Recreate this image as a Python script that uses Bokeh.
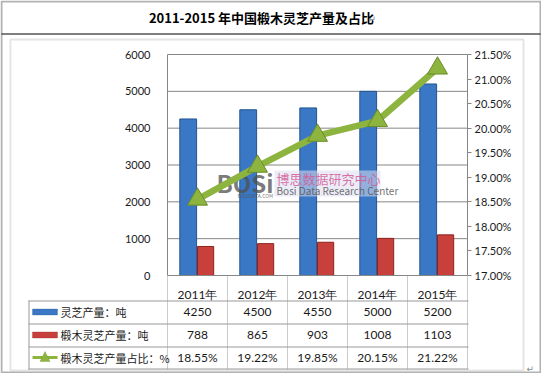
from bokeh.plotting import figure
from bokeh.models import (Range1d, LinearAxis, ColumnDataSource, Label, LabelSet,
                          BoxAnnotation, PolyAnnotation, FixedTicker, PrintfTickFormatter,
                          CustomJSTickFormatter)
from bokeh.core.properties import value
from bokeh.embed import file_html
from bokeh.resources import INLINE

# ---------------- data ----------------
years = ["2011年", "2012年", "2013年", "2014年", "2015年"]
lingzhi = [4250, 4500, 4550, 5000, 5200]          # 灵芝产量：吨
duanmu = [788, 865, 903, 1008, 1103]              # 椴木灵芝产量：吨
share = [18.55, 19.22, 19.85, 20.15, 21.22]       # 椴木灵芝产量占比：%
series_names = ["灵芝产量：吨", "椴木灵芝产量：吨", "椴木灵芝产量占比：%"]
title_text = "2011-2015 年中国椴木灵芝产量及占比"
left_ticks = [0, 1000, 2000, 3000, 4000, 5000, 6000]
right_ticks = [17.0, 17.5, 18.0, 18.5, 19.0, 19.5, 20.0, 20.5, 21.0, 21.5]

# ---------------- styles / layout ----------------
FONT = "Noto Sans CJK SC"
NUM_FONT = "Lato"
BLUE, BLUE_EDGE = "#3A78C6", "#23558F"
RED, RED_EDGE = "#C8403C", "#8E2220"
GREEN, GREEN_EDGE = "#8DB43E", "#6A8C28"
AXIS_GRAY = "#868686"
TABLE_GRAY = "#9A9A9A"
TEXT = "#1a1a1a"

W, H = 541, 373
PA_L, PA_R, PA_T, PA_B = 167, 467, 54, 275   # plot area inside canvas

ncat = len(years)
ymin, ymax = left_ticks[0], left_ticks[-1]
pmin, pmax = right_ticks[0], right_ticks[-1]
cat_px = (PA_R - PA_L) / ncat
val_px = (PA_B - PA_T) / (ymax - ymin)
pct_px = (PA_B - PA_T) / (pmax - pmin)

x_range = Range1d(0 - PA_L / cat_px, ncat + (W - PA_R) / cat_px)
y_range = Range1d(ymin - (H - PA_B) / val_px, ymax + PA_T / val_px)
pct_range = Range1d(pmin - (H - PA_B) / pct_px, pmax + PA_T / pct_px)


def sx(px):            # canvas x -> screen units (frame = whole canvas)
    return px


def sy(py):            # canvas y (down) -> screen units (up)
    return H - py


xpos = [i + 0.5 for i in range(ncat)]
src = ColumnDataSource(dict(
    x=xpos, year=years, lingzhi=lingzhi, duanmu=duanmu, share=share,
    x_blue=[v - 0.155 for v in xpos], x_red=[v + 0.135 for v in xpos],
    lz_txt=[str(v) for v in lingzhi],
    dm_txt=[str(v) for v in duanmu],
    sh_txt=["%.2f%%" % v for v in share],
))

p = figure(width=W, height=H, x_range=x_range, y_range=y_range,
           x_axis_type=None, y_axis_type=None,
           output_backend="svg", toolbar_location=None, min_border=0,
           outline_line_color=None, background_fill_color="white", border_fill_color="white")
p.extra_y_ranges = {"pct": pct_range}
p.grid.visible = False

# gridlines
p.segment(x0=0, x1=ncat, y0=left_ticks[1:], y1=left_ticks[1:], line_color=AXIS_GRAY, line_width=1)

# left axis
yax = LinearAxis(ticker=FixedTicker(ticks=left_ticks), fixed_location=0, bounds=(ymin, ymax))
yax.major_tick_line_color = None
yax.minor_tick_line_color = None
yax.axis_line_color = AXIS_GRAY
yax.major_label_standoff = 11
yax.major_label_text_font = NUM_FONT
yax.major_label_text_font_size = "11px"
yax.major_label_text_color = TEXT
p.add_layout(yax, "left")

# right axis
rax = LinearAxis(y_range_name="pct", ticker=FixedTicker(ticks=right_ticks),
                 formatter=PrintfTickFormatter(format="%.2f%%"), fixed_location=ncat,
                 bounds=(pmin, pmax))
rax.axis_line_color = AXIS_GRAY
rax.major_tick_line_color = AXIS_GRAY
rax.major_tick_in = 0
rax.major_tick_out = 4
rax.minor_tick_line_color = None
rax.major_label_standoff = 3
rax.major_label_text_font = NUM_FONT
rax.major_label_text_font_size = "11px"
rax.major_label_text_color = TEXT
p.add_layout(rax, "right")

# x axis = header row of the table
xax = LinearAxis(ticker=FixedTicker(ticks=xpos), fixed_location=ymin, bounds=(0, ncat),
                 formatter=CustomJSTickFormatter(args=dict(yrs=years),
                                                 code="return yrs[Math.floor(tick)];"))
xax.major_tick_line_color = None
xax.minor_tick_line_color = None
xax.axis_line_color = AXIS_GRAY
xax.major_label_standoff = 5
xax.major_label_text_font = NUM_FONT
xax.major_label_text_font_size = "12px"
xax.major_label_text_color = TEXT
p.add_layout(xax, "below")

# bars
p.vbar(x="x_blue", top="lingzhi", bottom=ymin, width=0.28, source=src,
       fill_color=BLUE, line_color=BLUE_EDGE, line_width=1)
p.vbar(x="x_red", top="duanmu", bottom=ymin, width=0.27, source=src,
       fill_color=RED, line_color=RED_EDGE, line_width=1)


def sbox(l, r, t, b, **kw):
    return BoxAnnotation(left=l, right=r, top=t, bottom=b, left_units="screen",
                         right_units="screen", top_units="screen", bottom_units="screen", **kw)


# ---------------- watermark ----------------
p.add_layout(sbox(sx(274), sx(380), sy(170), sy(196), fill_color="#DCDDEE", fill_alpha=0.55,
                  line_color=None))
p.add_layout(Label(x=sx(216), y=sy(182), x_units="screen", y_units="screen", text="BOSi",
                   text_font=FONT, text_font_style="bold", text_font_size="24px",
                   text_color="#505050", text_alpha=0.75, text_baseline="middle"))
p.add_layout(Label(x=sx(237), y=sy(195), x_units="screen", y_units="screen", text="BOSIDATA.COM",
                   text_font=FONT, text_font_size="5px", text_color="#505050", text_alpha=0.8,
                   text_baseline="middle"))
p.add_layout(Label(x=sx(276), y=sy(178), x_units="screen", y_units="screen", text="博思数据研究中心",
                   text_font=FONT, text_font_size="13px", text_color="#D25C98", text_alpha=0.85,
                   text_baseline="middle"))
p.add_layout(Label(x=sx(276), y=sy(190), x_units="screen", y_units="screen",
                   text="Bosi Data Research Center", text_font=FONT, text_font_size="10px",
                   text_color="#555555", text_alpha=0.85, text_baseline="middle"))

# line on the percent axis
ln = p.line(x="x", y="share", y_range_name="pct", source=src, line_color=GREEN, line_width=6.5)
ln.level = "overlay"
mk = p.scatter(x="x", y="share", y_range_name="pct", source=src, marker="triangle", size=20,
               fill_color=GREEN, line_color=GREEN_EDGE, line_width=1)
mk.level = "overlay"

# ---------------- frames ----------------
p.add_layout(sbox(sx(1), sx(540), sy(1), sy(372), fill_alpha=0, line_color="black", line_width=2))
p.add_layout(sbox(sx(1), sx(540), sy(33), sy(34), fill_color="black", fill_alpha=1, line_color=None))
p.add_layout(sbox(sx(10), sx(523), sy(39), sy(370), fill_alpha=0, line_color="#A8A8A8", line_width=2))

# title
p.add_layout(Label(x=sx(261), y=sy(17), x_units="screen", y_units="screen", text=title_text,
                   text_font=FONT, text_font_style="bold", text_font_size="13px",
                   text_color="black", text_align="center", text_baseline="middle"))
p.add_layout(Label(x=sx(368), y=sy(18), x_units="screen", y_units="screen", text="↵",
                   text_font="DejaVu Sans", text_font_size="9px", text_color="#888888",
                   text_baseline="middle"))
p.add_layout(Label(x=sx(526), y=sy(368), x_units="screen", y_units="screen", text="↵",
                   text_font="DejaVu Sans", text_font_size="9px", text_color="#888888",
                   text_baseline="middle"))

# ---------------- data table ----------------
row_lines = [300, 323, 346, 368]
row_centers = [311.5, 334.5, 357]
TABLE_LEFT = 28
for yl in row_lines:
    p.add_layout(sbox(sx(TABLE_LEFT), sx(PA_R + 1), sy(yl), sy(yl + 1), fill_color=TABLE_GRAY,
                      fill_alpha=1, line_color=None))
p.add_layout(sbox(sx(TABLE_LEFT), sx(TABLE_LEFT + 1), sy(row_lines[0]), sy(row_lines[-1] + 1),
                  fill_color=TABLE_GRAY, fill_alpha=1, line_color=None))
for i in range(ncat + 1):
    p.add_layout(BoxAnnotation(left=i, right=i, top=sy(PA_B), bottom=sy(row_lines[-1] + 1),
                               left_units="data", right_units="data", top_units="screen",
                               bottom_units="screen", fill_alpha=0, line_color=TABLE_GRAY,
                               line_width=1))

for col, yc in zip(["lz_txt", "dm_txt", "sh_txt"], row_centers):
    p.add_layout(LabelSet(x="x", y=sy(yc), y_units="screen", text=col, source=src,
                          text_font=value(NUM_FONT), text_font_size=value("12px"),
                          text_color=TEXT, text_align="center", text_baseline="middle"))

# legend keys
KEY_L, KEY_R = 32, 57
p.add_layout(sbox(sx(KEY_L), sx(KEY_R), sy(row_centers[0] - 3), sy(row_centers[0] + 3),
                  fill_color=BLUE, fill_alpha=1, line_color=BLUE_EDGE, line_width=1))
p.add_layout(sbox(sx(KEY_L), sx(KEY_R), sy(row_centers[1] - 3), sy(row_centers[1] + 3),
                  fill_color=RED, fill_alpha=1, line_color=RED_EDGE, line_width=1))
p.add_layout(sbox(sx(KEY_L), sx(KEY_R), sy(row_centers[2] - 1.5), sy(row_centers[2] + 1.5),
                  fill_color=GREEN, fill_alpha=1, line_color=None))
tc = (KEY_L + KEY_R) / 2
p.add_layout(PolyAnnotation(xs=[sx(tc - 5), sx(tc + 5), sx(tc)],
                            ys=[sy(row_centers[2] + 4), sy(row_centers[2] + 4), sy(row_centers[2] - 6)],
                            xs_units="screen", ys_units="screen", fill_color=GREEN,
                            fill_alpha=1, line_color=GREEN_EDGE, line_width=1))
for name, yc in zip(series_names, row_centers):
    p.add_layout(Label(x=sx(60), y=sy(yc), x_units="screen", y_units="screen", text=name,
                       text_font=FONT, text_font_size="11px", text_color=TEXT,
                       text_baseline="middle"))

open("out.html", "w").write(file_html(p, INLINE))
